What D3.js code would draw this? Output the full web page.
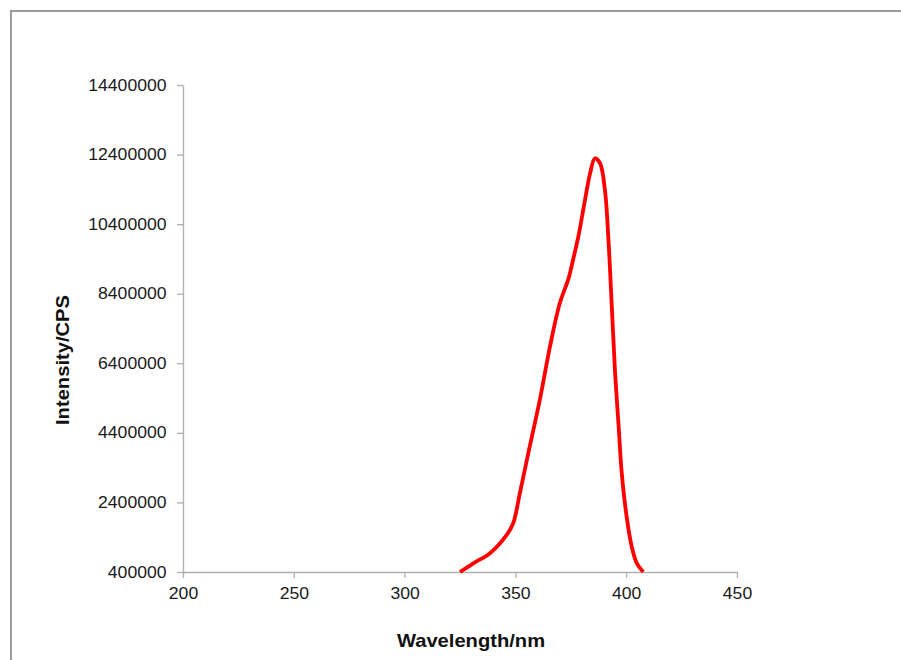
<!DOCTYPE html>
<html>
<head>
<meta charset="utf-8">
<script src="https://cdn.jsdelivr.net/npm/d3@7"></script>
<style>
  body { margin: 0; background: #fff; }
  svg { display: block; }
  .tick text { font-family: "Liberation Sans", Arial, sans-serif; font-size: 16px; fill: #1a1a1a; }
  .axis-title { font-family: "Liberation Sans", Arial, sans-serif; font-size: 18px; font-weight: bold; fill: #111; }
</style>
</head>
<body>
<div class="chart"></div>
<script>
// emission spectrum
var wavelength = [325, 331, 338.5, 346, 349, 352, 355.8, 361, 365.6, 370, 374, 376, 378.4, 381.4, 383.7, 385.9, 388.2, 390.4, 392, 393.5, 395, 396.5, 398, 400.2, 402.5, 404.8, 407.7];
var intensity = [400000, 650000, 940000, 1460000, 1800000, 2660000, 3810000, 5340000, 6880000, 8120000, 8840000, 9370000, 10040000, 11090000, 11860000, 12290000, 12150000, 11380000, 9940000, 8030000, 6110000, 4670000, 3240000, 1990000, 1130000, 650000, 400000];

var xTicks = [200, 250, 300, 350, 400, 450];
var yTicks = [400000, 2400000, 4400000, 6400000, 8400000, 10400000, 12400000, 14400000];

var width = 901, height = 660;
var margin = { top: 85, right: 164, bottom: 88, left: 183 };

var svg = d3.select('.chart')
    .append('svg')
    .attr('width', width)
    .attr('height', height);

// chart area frame (only top and left edges show)
svg.append('path')
    .attr('d', 'M11,' + height + 'V11H' + width)
    .attr('fill', 'none')
    .attr('stroke', '#9a9a9a')
    .attr('stroke-width', 2);

var xscale = d3.scaleLinear()
    .domain([200, 450])
    .range([margin.left, width - margin.right]);

var yscale = d3.scaleLinear()
    .domain([400000, 14400000])
    .range([height - margin.bottom, margin.top]);

var x_axis = d3.axisBottom(xscale)
    .tickValues(xTicks)
    .tickSize(6)
    .tickSizeOuter(0)
    .tickPadding(10);

var y_axis = d3.axisLeft(yscale)
    .tickValues(yTicks)
    .tickFormat(d3.format('d'))
    .tickSize(6)
    .tickSizeOuter(0)
    .tickPadding(9);

var gx = svg.append('g')
    .attr('class', 'x_axis')
    .attr('transform', 'translate(0,' + (height - margin.bottom) + ')')
    .call(x_axis);

var gy = svg.append('g')
    .attr('class', 'y_axis')
    .attr('transform', 'translate(' + margin.left + ',0)')
    .call(y_axis);

[gx, gy].forEach(function(g) {
    g.select('.domain').attr('stroke', '#b0b0b0').attr('stroke-width', 1.3);
    g.selectAll('.tick line').attr('stroke', '#b0b0b0').attr('stroke-width', 1.3);
    // the original text is a bit wider than Arial
    g.selectAll('.tick text').attr('transform', 'scale(1.1,1)');
});

var data = wavelength.map(function(w, i) { return { w: w, v: intensity[i] }; });

var line = d3.line()
    .x(function(d) { return xscale(d.w); })
    .y(function(d) { return yscale(d.v); })
    .curve(d3.curveCatmullRom.alpha(0.5));

svg.append('path')
    .datum(data)
    .attr('d', line)
    .attr('fill', 'none')
    .attr('stroke', '#ff0000')
    .attr('stroke-width', 3.8)
    .attr('stroke-linejoin', 'round');

svg.append('text')
    .attr('class', 'axis-title')
    .attr('text-anchor', 'middle')
    .attr('transform', 'translate(471,647) scale(1.12,1)')
    .text('Wavelength/nm');

svg.append('text')
    .attr('class', 'axis-title')
    .attr('text-anchor', 'middle')
    .attr('transform', 'translate(69,360) rotate(-90) scale(1.12,1)')
    .text('Intensity/CPS');
</script>
</body>
</html>
